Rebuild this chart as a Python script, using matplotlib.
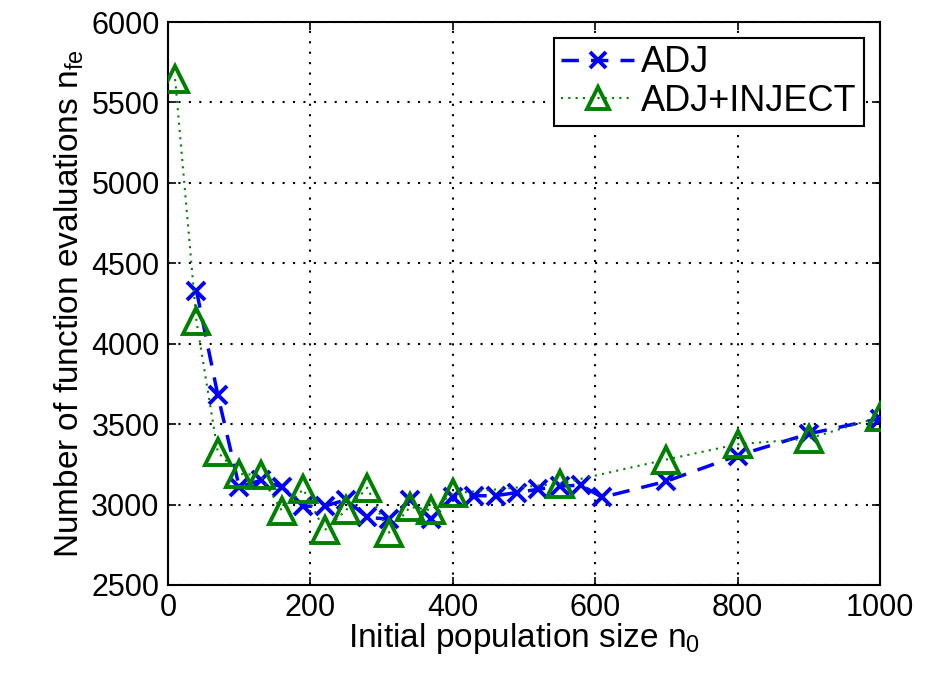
import numpy as np
import matplotlib
matplotlib.use("Agg")
import matplotlib.pyplot as plt
from matplotlib import rcParams

rcParams["font.family"] = ["Liberation Sans", "DejaVu Sans"]
rcParams["mathtext.fontset"] = "custom"
rcParams["mathtext.rm"] = "Liberation Sans"
rcParams["mathtext.it"] = "Liberation Sans"
rcParams["legend.fancybox"] = False
rcParams["axes.linewidth"] = 1.5

# ADJ series
adj_n0 = [40, 70, 100, 130, 160, 190, 220, 250, 280, 310, 340, 370,
          400, 430, 460, 490, 520, 550, 580, 610, 700, 800, 900, 1000]
adj_nfe = [4330, 3680, 3110, 3150, 3110, 2990, 2990, 3030, 2920, 2910, 3030, 2910,
           3050, 3055, 3055, 3075, 3095, 3115, 3120, 3045, 3145, 3305, 3440, 3535]

# ADJ+INJECT series
inj_n0 = [10, 40, 70, 100, 130, 160, 190, 220, 250, 280, 310, 340, 370,
          400, 550, 700, 800, 900, 1000]
inj_nfe = [5645, 4140, 3325, 3190, 3185, 2960, 3095, 2840, 2965, 3105, 2825, 2985, 2965,
           3070, 3130, 3280, 3375, 3410, 3545]

fig = plt.figure(figsize=(9.35, 6.78), dpi=100)
ax = fig.add_axes([168/935, 1-585/678, (880-168)/935, (585-22)/678])

ax.plot(adj_n0, adj_nfe, color='blue', linestyle=(0, (5, 3.5)), linewidth=2.5,
        marker='x', markersize=13, markeredgewidth=2.8, label='ADJ', zorder=3)
ax.plot(inj_n0, inj_nfe, color=(0, 0.5, 0), linestyle=(0, (1, 2.5)), linewidth=1.5,
        marker='^', markersize=19, markeredgewidth=2.8, markerfacecolor='none',
        label='ADJ+INJECT', zorder=4)

ax.set_xlim(0, 1000)
ax.set_ylim(2500, 6000)
ax.set_xticks([0, 200, 400, 600, 800, 1000])
ax.set_yticks(np.arange(2500, 6001, 500))
ax.grid(True, color='black', linestyle=(0, (1, 4)), linewidth=1.5)
ax.tick_params(which='both', direction='in', top=True, right=True, length=6, width=1.2,
               labelsize=22, pad=6)
ax.set_xlabel('Initial population size n$_0$', fontsize=24, labelpad=-2)
ax.set_ylabel('Number of function evaluations n$_{fe}$', fontsize=24, labelpad=4)

leg = ax.legend(loc='upper right', fontsize=26, handlelength=2.0, handletextpad=0.2,
                labelspacing=0.1, borderpad=0.2, borderaxespad=0.45, markerscale=0.85,
                edgecolor='black', framealpha=1)
leg.get_frame().set_linewidth(1.5)

plt.savefig('out.png', dpi=100)
